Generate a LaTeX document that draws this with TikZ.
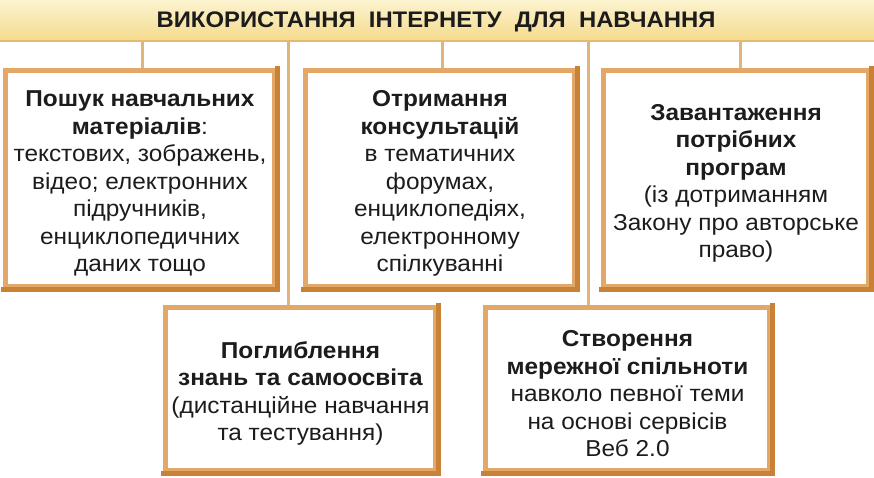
\documentclass[tikz,border=0pt]{standalone}
\usepackage{fontspec}
\setmainfont[FakeStretch=1.06]{Liberation Sans}
\usetikzlibrary{backgrounds}
\definecolor{edgelight}{HTML}{E3A868}
\definecolor{edgedark}{HTML}{C98138}
\definecolor{wire}{HTML}{E0B47A}
\definecolor{bantop}{HTML}{FCF4D0}
\definecolor{banbot}{HTML}{F4DA8C}
\definecolor{banline}{HTML}{E0BB72}
\definecolor{ink}{HTML}{1C1C1C}
\newcommand\topgap{\rule{0pt}{26pt}}
\tikzset{
  infobox/.style={draw=edgelight, line width=5pt, fill=white, inner sep=0pt,
    align=center, text=ink, font=\fontsize{23}{27.5}\selectfont},
  darkedge/.style={draw=edgedark, line width=5pt, line cap=rect},
  wireline/.style={draw=wire, line width=3pt},
}
\begin{document}
\begin{tikzpicture}[x=1pt,y=-1pt]
\useasboundingbox (0,0) rectangle (874,477);
\node[top color=bantop, bottom color=banbot, minimum width=874pt, minimum height=41pt, inner sep=0pt] (banner) at (437,20.5) {};
\draw[banline, line width=2pt] (banner.south west) -- (banner.south east);
\node[text=ink, font=\fontsize{22.5}{26}\selectfont\bfseries] (title) at (436,21.5) {ВИКОРИСТАННЯ\ \ ІНТЕРНЕТУ\ \ ДЛЯ\ \ НАВЧАННЯ};

\node[infobox, minimum width=269pt, minimum height=216pt] (b1) at (140,178.5)
 {\topgap\textbf{Пошук навчальних}\\ \textbf{матеріалів}:\\ текстових, зображень,\\ відео; електронних\\ підручників,\\ енциклопедичних\\ даних тощо};
\node[infobox, minimum width=269pt, minimum height=216pt] (b2) at (440,178.5)
 {\topgap\textbf{Отримання}\\ \textbf{консультацій}\\ в тематичних\\ форумах,\\ енциклопедіях,\\ електронному\\ спілкуванні};
\node[infobox, minimum width=265pt, minimum height=216pt] (b3) at (736,178.5)
 {\topgap\textbf{Завантаження}\\ \textbf{потрібних}\\ \textbf{програм}\\ (із дотриманням\\ Закону про авторське\\ право)};
\node[infobox, minimum width=270pt, minimum height=163pt] (b4) at (300.5,389)
 {\topgap\textbf{Поглиблення}\\ \textbf{знань та самоосвіта}\\ (дистанційне навчання\\ та тестування)};
\node[infobox, minimum width=284pt, minimum height=163pt] (b5) at (627.5,389)
 {\topgap\textbf{Створення}\\ \textbf{мережної спільноти}\\ навколо певної теми\\ на основі сервісів\\ Веб 2.0};

\foreach \b in {b1,b2,b3,b4,b5}{
  \draw[darkedge] (\b.north east) -- (\b.south east) -- (\b.south west);
}

\coordinate (c1) at (142,0);
\coordinate (c2) at (288,0);
\coordinate (c3) at (442,0);
\coordinate (c4) at (588,0);
\coordinate (c5) at (740,0);
\begin{scope}[on background layer]
\fill[white] (0,0) rectangle (874,477);
\draw[wireline] (c1 |- banner.south) -- (c1 |- b1.north);
\draw[wireline] (c2 |- banner.south) -- (c2 |- b4.north);
\draw[wireline] (c3 |- banner.south) -- (c3 |- b2.north);
\draw[wireline] (c4 |- banner.south) -- (c4 |- b5.north);
\draw[wireline] (c5 |- banner.south) -- (c5 |- b3.north);
\end{scope}
\end{tikzpicture}
\end{document}
